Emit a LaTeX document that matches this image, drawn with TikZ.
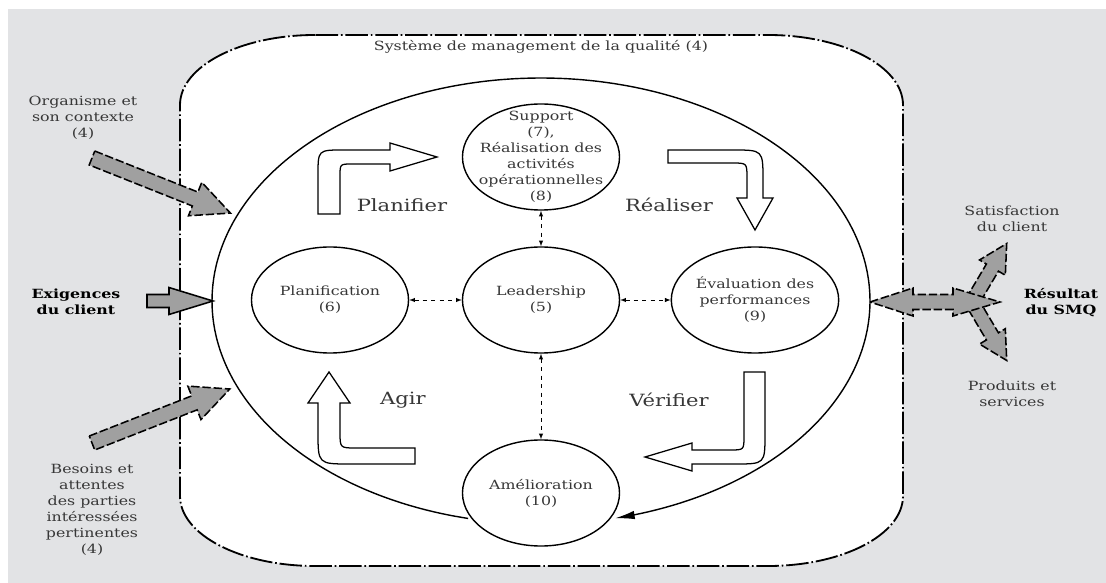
\documentclass[tikz,border=0pt]{standalone}
\usepackage{fontspec}
\setmainfont{DejaVu Serif}[FakeStretch=1.25]
\usetikzlibrary{shapes.geometric,arrows,arrows.meta}
\definecolor{bggray}{RGB}{226,227,229}
\definecolor{fatgray}{RGB}{160,160,160}
\definecolor{txtgray}{RGB}{55,55,55}
% fat arrow: [options]{tail}{angle}{length}{shaft half width}{head half width}{head length}
\newcommand{\fatarrow}[7][]{%
  \begin{scope}[shift={#2},rotate=#3]
  \draw[fat,#1] (0,-#5) -- ({#4-#7},-#5) -- ({#4-#7},-#6) -- (#4,0) -- ({#4-#7},#6) -- ({#4-#7},#5) -- (0,#5) -- cycle;
  \end{scope}}

\begin{document}
\begin{tikzpicture}[x=0.025cm,y=-0.025cm,
  stage/.style={ellipse,draw,line width=1pt,minimum width=3.925cm,minimum height=2.65cm,inner sep=0pt,align=center,text=txtgray,font=\fontsize{9}{11.4}\selectfont},
  txt/.style={align=center,text=txtgray,font=\fontsize{9}{11.4}\selectfont},
  btxt/.style={align=center,text=black,font=\fontsize{9}{11.4}\selectfont\bfseries},
  cyc/.style={text=txtgray,font=\fontsize{12}{14}\selectfont},
  link/.style={latex-latex,dashed,thin},
  bent/.style={draw,line width=0.9pt,fill=white},
  fat/.style={draw,fill=fatgray,line width=1.1pt,dash pattern=on 6pt off 2pt},
  smq/.style={line width=1.3pt,dash pattern=on 16pt off 2pt on 1.2pt off 2pt}]
\useasboundingbox (0,0) rectangle (1106,583);
\fill[white] (0,0) rectangle (1106,583);
\fill[bggray] (8,9) rectangle (1106,583);
% system boundary
\draw[smq,fill=white] (315,35) .. controls (240.4,35) and (180,66.3) .. (180,105) -- (180,496)
  .. controls (180,534.7) and (240.4,566) .. (315,566) -- (768,566)
  .. controls (842.6,566) and (903,534.7) .. (903,496) -- (903,105)
  .. controls (903,66.3) and (842.6,35) .. (768,35) -- cycle;
\node[txt] (titre) at (541,47) {Système de management de la qualité (4)};
% PDCA cycle
\draw[line width=1pt,-{Latex[length=14pt,width=6pt]}] plot[domain=102.8:437,samples=120,smooth] ({541+329*cos(\x)},{301+223*sin(\x)});
\node[stage] (plan) at (330,300) {Planification\\(6)};
\node[stage] (lead) at (541,300) {Leadership\\(5)};
\node[stage] (eval) at (755,300) {Évaluation des\\performances\\(9)};
\node[stage] (sup) at (541,157) {};
\node[txt] (suptxt) at (sup) {Support\\(7),\\Réalisation des\\activités\\opérationnelles\\(8)};
\node[stage] (amel) at (541,493) {Amélioration\\(10)};
\draw[link] (sup) -- (lead);
\draw[link] (lead) -- (amel);
\draw[link] (plan) -- (lead);
\draw[link] (lead) -- (eval);
% bent arrows
\draw[bent] (318,214) -- (318,175) .. controls (318,150) .. (343,150) -- (390,150) -- (390,143) -- (437,157) -- (390,171) -- (390,164) -- (352,164) .. controls (340,164) .. (340,176) -- (340,214) -- cycle;
\draw[bent] (668,150) -- (733,150) .. controls (763,150) .. (763,180) -- (763,198) -- (773,198) -- (755,230) -- (737,198) -- (747,198) -- (747,178) .. controls (747,163) .. (732,163) -- (668,163) -- cycle;
\draw[bent] (744,372) -- (765,372) -- (765,434) .. controls (765,464) .. (735,464) -- (692,464) -- (692,471) -- (645,457) -- (692,443) -- (692,450) -- (730,450) .. controls (744,450) .. (744,436) -- cycle;
\draw[bent] (318,403) -- (318,432) .. controls (318,464) .. (350,464) -- (415,464) -- (415,448) -- (356,448) .. controls (340,448) .. (340,432) -- (340,403) -- (350,403) -- (329,372) -- (308,403) -- cycle;
\node[cyc] (planifier) at (402,205) {Planifier};
\node[cyc] (realiser) at (669,205) {Réaliser};
\node[cyc] (agir) at (403,400) {Agir};
\node[cyc] (verifier) at (669,400) {Vérifier};
% inputs
\node[txt] (orga) at (83,118) {Organisme et\\son contexte\\(4)};
\node[btxt] (exig) at (76,302) {Exigences\\du client};
\node[txt] (besoins) at (92,510) {Besoins et\\attentes\\des parties\\intéressées\\pertinentes\\(4)};
\fatarrow{(92,158)}{-21.7}{149}{7.5}{18}{38}
\fatarrow[solid]{(147,301)}{0}{66}{6.5}{13.5}{44}
\fatarrow{(92,443)}{21.4}{148}{7.5}{18}{38}
% outputs
\fatarrow{(972,302)}{59.3}{68}{7}{15}{28}
\fatarrow{(972,302)}{-59.3}{68}{7}{15}{28}
\draw[fat] (870,302) -- (913,288) -- (913,294.5) -- (953,294.5) -- (953,288) -- (1000,302) -- (953,316) -- (953,309.5) -- (913,309.5) -- (913,316) -- cycle;
\node[txt] (satis) at (1012,219) {Satisfaction\\du client};
\node[btxt] (result) at (1061,303) {Résultat\\du SMQ};
\node[txt] (prod) at (1012,394) {Produits et\\services};
\end{tikzpicture}
\end{document}
